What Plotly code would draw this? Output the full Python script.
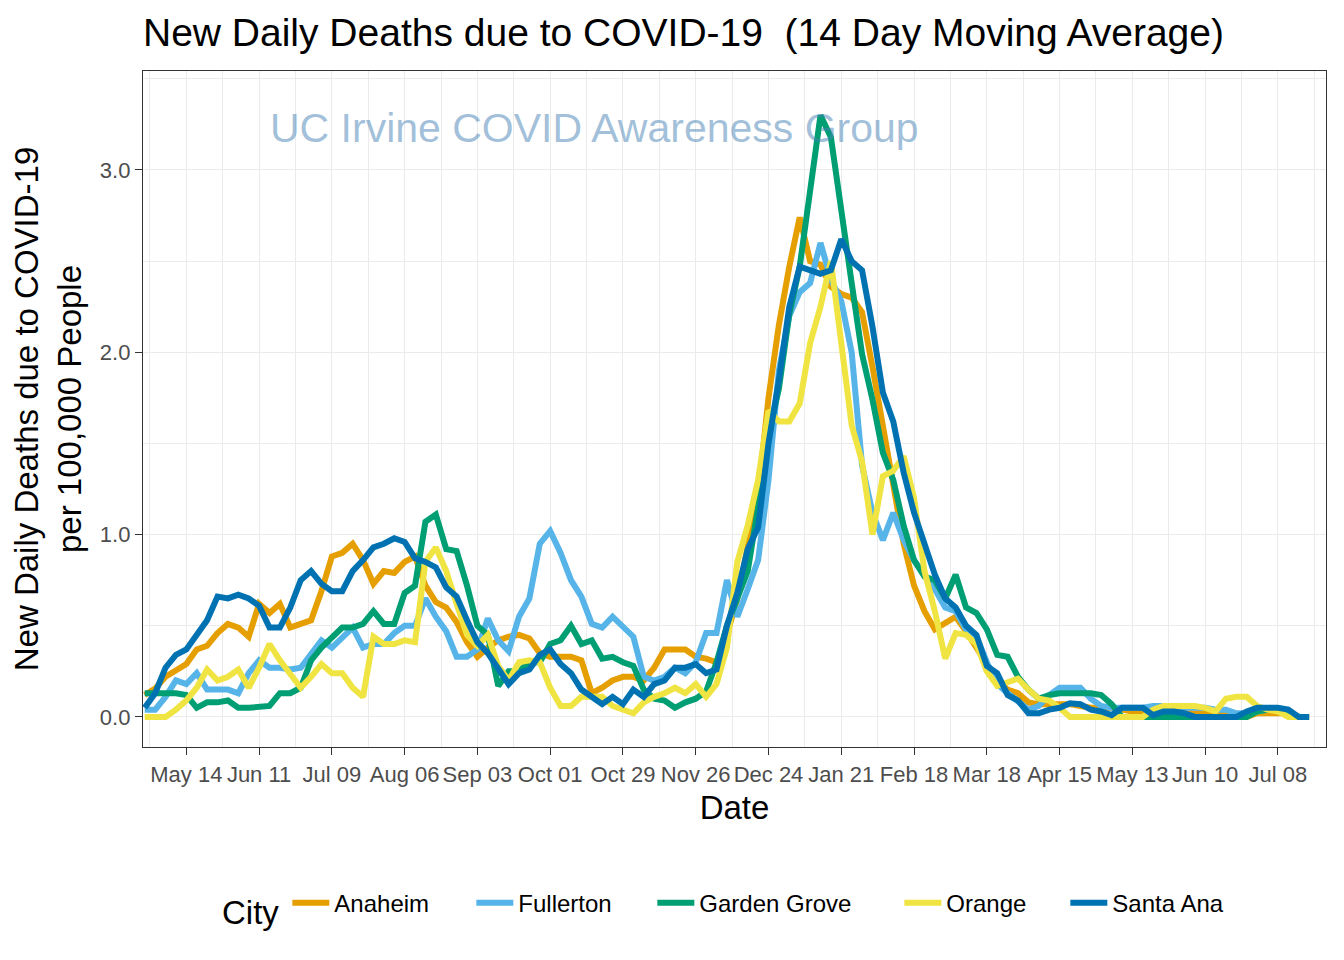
import pandas as pd
import plotly.graph_objects as go

# ---- data (14-day moving average deaths per 100k), sampled every 4 days from 2020-04-28 ----
start_date = "2020-04-28"
n_points = 113
dates = pd.date_range(start_date, periods=n_points, freq="4D")

cities = ["Anaheim", "Fullerton", "Garden Grove", "Orange", "Santa Ana"]
colors = ["#E69F00", "#56B4E9", "#009E73", "#F0E442", "#0072B2"]
legend_widths = [132, 129, 195, 114, 125]   # legend entry widths (px), layout only

anaheim = [
    0.12, 0.155, 0.22, 0.26, 0.29, 0.37, 0.39, 0.46, 0.51, 0.49,
    0.44, 0.62, 0.57, 0.62, 0.49, 0.51, 0.53, 0.69, 0.88, 0.90,
    0.95, 0.86, 0.73, 0.80, 0.79, 0.85, 0.88, 0.72, 0.63, 0.60,
    0.52, 0.41, 0.33, 0.38, 0.42, 0.44, 0.45, 0.43, 0.35, 0.33,
    0.33, 0.33, 0.31, 0.13, 0.16, 0.20, 0.22, 0.22, 0.20, 0.27,
    0.37, 0.37, 0.37, 0.33, 0.32, 0.30, 0.45, 0.65, 0.95, 1.22,
    1.75, 2.15, 2.47, 2.74, 2.50, 2.48, 2.36, 2.32, 2.30, 2.22,
    1.92, 1.60, 1.30, 0.95, 0.72, 0.58, 0.48, 0.52, 0.55, 0.47,
    0.38, 0.30, 0.20, 0.15, 0.13, 0.08, 0.07, 0.07, 0.07, 0.07,
    0.06, 0.05, 0.05, 0.05, 0.04, 0.03, 0.03, 0.03, 0.03, 0.02,
    0.02, 0.02, 0.02, 0.02, 0.02, 0.0, 0.0, 0.02, 0.02, 0.02,
    0.02, 0.0, 0.0,
]

fullerton = [
    0.04, 0.04, 0.11, 0.20, 0.18, 0.24, 0.15, 0.15, 0.15, 0.13,
    0.24, 0.31, 0.27, 0.27, 0.26, 0.27, 0.35, 0.42, 0.38, 0.44,
    0.49, 0.38, 0.40, 0.40, 0.46, 0.50, 0.50, 0.65, 0.55, 0.47,
    0.33, 0.33, 0.37, 0.54, 0.42, 0.36, 0.55, 0.65, 0.95, 1.02,
    0.90, 0.75, 0.66, 0.51, 0.49, 0.55, 0.49, 0.44, 0.22, 0.20,
    0.22, 0.27, 0.24, 0.30, 0.46, 0.46, 0.75, 0.55, 0.70, 0.86,
    1.30, 1.90, 2.20, 2.33, 2.38, 2.60, 2.40, 2.28, 2.00, 1.38,
    1.12, 0.97, 1.12, 0.97, 0.86, 0.78, 0.70, 0.60, 0.58, 0.48,
    0.44, 0.30, 0.18, 0.13, 0.09, 0.04, 0.06, 0.12, 0.16, 0.16,
    0.16, 0.10, 0.06, 0.05, 0.05, 0.05, 0.05, 0.06, 0.06, 0.06,
    0.05, 0.05, 0.05, 0.04, 0.04, 0.02, 0.02, 0.03, 0.04, 0.04,
    0.02, 0.0, 0.0,
]

garden_grove = [
    0.13, 0.13, 0.13, 0.13, 0.12, 0.05, 0.08, 0.08, 0.09, 0.05,
    0.05, 0.055, 0.06, 0.13, 0.13, 0.16, 0.31, 0.38, 0.44, 0.49,
    0.49, 0.51, 0.58, 0.51, 0.51, 0.68, 0.72, 1.07, 1.11, 0.92,
    0.91, 0.72, 0.50, 0.45, 0.17, 0.25, 0.25, 0.30, 0.30, 0.40,
    0.42, 0.50, 0.40, 0.42, 0.32, 0.33, 0.30, 0.28, 0.15, 0.10,
    0.09, 0.05, 0.08, 0.10, 0.14, 0.30, 0.50, 0.66, 0.80, 1.15,
    1.55, 1.80, 2.21, 2.47, 2.87, 3.30, 3.18, 2.75, 2.38, 1.99,
    1.74, 1.45, 1.30, 1.05, 0.86, 0.77, 0.75, 0.65, 0.78, 0.60,
    0.57, 0.48, 0.34, 0.33, 0.22, 0.15, 0.10, 0.12, 0.13, 0.13,
    0.13, 0.13, 0.12, 0.07, 0.0, 0.0, 0.0, 0.0, 0.0, 0.0,
    0.0, 0.0, 0.0, 0.0, 0.0, 0.0, 0.0, 0.03, 0.04, 0.04,
    0.03, 0.0, 0.0,
]

orange = [
    0.0, 0.0, 0.0, 0.04, 0.09, 0.16, 0.26, 0.20, 0.22, 0.26,
    0.16, 0.27, 0.40, 0.31, 0.24, 0.16, 0.22, 0.29, 0.24, 0.24,
    0.16, 0.11, 0.44, 0.40, 0.40, 0.42, 0.41, 0.85, 0.93, 0.80,
    0.62, 0.45, 0.39, 0.45, 0.28, 0.20, 0.30, 0.31, 0.30, 0.16,
    0.06, 0.06, 0.11, 0.11, 0.11, 0.06, 0.04, 0.02, 0.08, 0.11,
    0.13, 0.16, 0.13, 0.18, 0.11, 0.18, 0.38, 0.85, 1.05, 1.30,
    1.68, 1.62, 1.62, 1.72, 2.05, 2.25, 2.50, 2.05, 1.60, 1.40,
    1.00, 1.32, 1.35, 1.43, 1.20, 0.80, 0.58, 0.32, 0.46, 0.45,
    0.40, 0.25, 0.17, 0.19, 0.21, 0.15, 0.10, 0.09, 0.05, 0.0,
    0.0, 0.0, 0.0, 0.0, 0.0, 0.0, 0.0, 0.04, 0.06, 0.06,
    0.06, 0.06, 0.05, 0.03, 0.10, 0.11, 0.11, 0.06, 0.04, 0.03,
    0.0, 0.0, 0.0,
]

santa_ana = [
    0.05, 0.13, 0.27, 0.34, 0.37, 0.45, 0.53, 0.66, 0.65, 0.67,
    0.65, 0.61, 0.49, 0.49, 0.60, 0.75, 0.80, 0.73, 0.69, 0.69,
    0.80, 0.86, 0.93, 0.95, 0.98, 0.96, 0.87, 0.85, 0.82, 0.71,
    0.66, 0.53, 0.41, 0.35, 0.27, 0.18, 0.24, 0.26, 0.34, 0.37,
    0.29, 0.24, 0.15, 0.11, 0.07, 0.11, 0.07, 0.15, 0.11, 0.18,
    0.20, 0.27, 0.27, 0.29, 0.24, 0.26, 0.50, 0.68, 0.92, 1.04,
    1.50, 1.85, 2.25, 2.47, 2.45, 2.43, 2.45, 2.62, 2.50, 2.45,
    2.14, 1.78, 1.62, 1.34, 1.12, 0.95, 0.78, 0.65, 0.60, 0.50,
    0.45, 0.28, 0.24, 0.12, 0.09, 0.02, 0.02, 0.04, 0.05, 0.075,
    0.07, 0.04, 0.03, 0.01, 0.05, 0.05, 0.05, 0.01, 0.03, 0.03,
    0.02, 0.0, 0.0, 0.0, 0.0, 0.0, 0.03, 0.05, 0.05, 0.05,
    0.04, 0.0, 0.0,
]

series = [anaheim, fullerton, garden_grove, orange, santa_ana]

title_text = "New Daily Deaths due to COVID-19  (14 Day Moving Average)"
x_title = "Date"
y_title = "New Daily Deaths due to COVID-19<br>per 100,000 People"
legend_title = "City"
watermark = "UC Irvine COVID Awareness Group"

FONT = "Liberation Sans, Arial, sans-serif"

fig = go.Figure()
for name, vals, col, lw in zip(cities, series, colors, legend_widths):
    fig.add_trace(go.Scatter(
        x=dates, y=vals, name=name, mode="lines",
        line=dict(color=col, width=6),
        legendwidth=lw,
    ))

fig.add_annotation(
    x="2020-10-18", y=3.23, xref="x", yref="y",
    text=watermark, showarrow=False,
    font=dict(family=FONT, size=41, color="rgba(70,130,180,0.5)"),
)

fig.update_layout(
    width=1344, height=960,
    paper_bgcolor="white", plot_bgcolor="white",
    margin=dict(l=143, r=18, t=71, b=213, autoexpand=False),
    font=dict(family=FONT, color="black"),
    title=dict(
        text=title_text, x=143 / 1344, xanchor="left", xref="container",
        y=1 - 32 / 960, yanchor="middle", yref="container",
        font=dict(family=FONT, size=39, color="black"),
    ),
    showlegend=True,
    legend=dict(
        orientation="h", x=(220 - 143) / 1183, xanchor="left", y=-0.237, yanchor="middle",
        font=dict(family=FONT, size=24, color="black"),
        title=dict(text=legend_title, side="left", font=dict(family=FONT, size=33, color="black")),
        bgcolor="rgba(0,0,0,0)",
        itemwidth=37,
    ),
)

fig.update_xaxes(
    type="date", automargin=False,
    range=["2020-04-27 08:00", "2021-07-26 12:00"],
    tick0="2020-05-14", dtick=28 * 86400000, tickformat="%b %d", tickangle=0,
    ticks="outside", ticklen=7, tickwidth=1.3, tickcolor="#333333",
    tickfont=dict(family=FONT, size=22, color="#4D4D4D"),
    showgrid=True, gridcolor="#EBEBEB", gridwidth=1.3,
    minor=dict(showgrid=True, gridcolor="#EBEBEB", gridwidth=0.7,
               tick0="2020-04-30", dtick=14 * 86400000),
    showline=True, linecolor="#333333", linewidth=1.3, mirror=True,
    zeroline=False,
    title=dict(text=x_title, font=dict(family=FONT, size=33, color="black"), standoff=10),
)

fig.update_yaxes(
    automargin=False,
    range=[-0.165, 3.543],
    tick0=0, dtick=1, tickformat=".1f",
    ticks="outside", ticklen=7, tickwidth=1.3, tickcolor="#333333",
    tickfont=dict(family=FONT, size=22, color="#4D4D4D"),
    showgrid=True, gridcolor="#EBEBEB", gridwidth=1.3,
    minor=dict(showgrid=True, gridcolor="#EBEBEB", gridwidth=0.7, tick0=0.5, dtick=1),
    showline=True, linecolor="#333333", linewidth=1.3, mirror=True,
    zeroline=False,
    title=dict(text=y_title, font=dict(family=FONT, size=33, color="black"), standoff=8),
)

fig.write_html("out.html", config={"displayModeBar": False},
               post_script="document.body.style.margin='0';")
